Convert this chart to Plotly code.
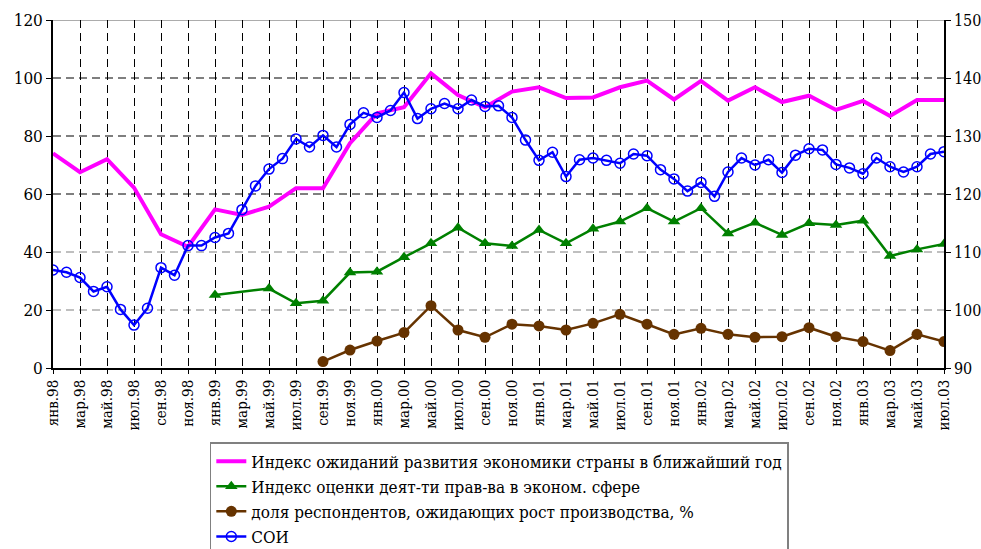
import plotly.graph_objects as go

month_abbr = ["янв", "фев", "мар", "апр", "май", "июн",
              "июл", "авг", "сен", "окт", "ноя", "дек"]
years = ["98", "99", "00", "01", "02", "03"]
months = [f"{m}.{y}" for y in years for m in month_abbr][:67]  # янв.98 .. июл.03

# СОИ (right axis), monthly
soi = [106.9, 106.5, 105.6, 103.2, 104.0, 100.1, 97.4, 100.3, 107.3, 106.0, 111.1, 111.1,
       112.5, 113.2, 117.3, 121.4, 124.3, 126.1, 129.5, 128.1, 130.1, 128.1, 132.0, 134.0,
       133.2, 134.4, 137.5, 133.0, 134.7, 135.6, 134.7, 136.2, 135.1, 135.2, 133.2, 129.3,
       125.8, 127.2, 123.0, 125.9, 126.2, 125.8, 125.3, 126.9, 126.6, 124.2, 122.6, 120.5,
       122.0, 119.6, 123.8, 126.2, 125.0, 125.9, 123.7, 126.7, 127.8, 127.6, 125.1, 124.5,
       123.5, 126.2, 124.7, 123.8, 124.7, 126.9, 127.3]

# bi-monthly series (янв, мар, май, июл, сен, ноя)
bimonth = months[::2]
expect_idx = [74.0, 67.5, 72.0, 62.2, 46.1, 41.8,
              54.7, 52.8, 55.6, 62.0, 62.0, 77.5,
              87.8, 89.9, 101.6, 94.1, 89.9, 95.3,
              96.8, 93.1, 93.3, 96.8, 99.1, 92.6,
              99.0, 92.2, 96.8, 91.7, 93.9, 89.0,
              92.1, 86.9, 92.4, 92.4]
gov_idx = [None, None, None, None, None, None,
           25.2, None, 27.4, 22.3, 23.2, 32.9,
           33.2, 38.2, 43.0, 48.4, 43.0, 42.1,
           47.6, 43.0, 48.0, 50.5, 55.1, 50.5,
           55.1, 46.4, 50.1, 45.9, 49.9, 49.3,
           50.8, 38.6, 40.9, 42.8]
prod_share = [None, None, None, None, None, None,
              None, None, None, None, 2.2, 6.2,
              9.3, 12.2, 21.5, 13.1, 10.6, 15.1,
              14.5, 13.1, 15.4, 18.5, 15.1, 11.6,
              13.7, 11.6, 10.6, 10.8, 13.9, 10.8,
              9.1, 6.0, 11.6, 9.1]

left_ticks = [0, 20, 40, 60, 80, 100, 120]
right_ticks = [90, 100, 110, 120, 130, 140, 150]

names = ["Индекс ожиданий развития экономики страны в ближайший год",
         "Индекс оценки деят-ти прав-ва в эконом. сфере",
         "доля респондентов, ожидающих рост производства, %",
         "СОИ"]

xi_month = list(range(len(months)))
xi_bi = xi_month[::2]

FONT = "DejaVu Serif Condensed"

fig = go.Figure()
fig.add_trace(go.Scatter(x=xi_bi, y=expect_idx, name=names[0], mode="lines",
                         line=dict(color="#FF00FF", width=4)))
fig.add_trace(go.Scatter(x=xi_bi, y=gov_idx, name=names[1], mode="lines+markers",
                         connectgaps=True,
                         line=dict(color="#008000", width=2.5),
                         marker=dict(symbol="triangle-up", size=11, color="#008000")))
fig.add_trace(go.Scatter(x=xi_bi, y=prod_share, name=names[2], mode="lines+markers",
                         line=dict(color="#663300", width=2.5),
                         marker=dict(symbol="circle", size=11, color="#663300")))
fig.add_trace(go.Scatter(x=xi_month, y=soi, name=names[3], mode="lines+markers",
                         yaxis="y2",
                         line=dict(color="#0000FF", width=2.5),
                         marker=dict(symbol="circle-open", size=10, color="#0000FF",
                                     line=dict(width=1.5, color="#0000FF"))))

shapes = []
for v in left_ticks[1:-1]:
    shapes.append(dict(type="line", xref="paper", yref="y", x0=0, x1=1, y0=v, y1=v,
                       layer="below",
                       line=dict(color="#808080" if v <= 40 else "#000000",
                                 width=1.2, dash="8px,5px")))
shapes.append(dict(type="line", xref="paper", yref="y", x0=0, x1=1,
                   y0=left_ticks[-1], y1=left_ticks[-1], layer="below",
                   line=dict(color="#909090", width=1.5)))

fig.update_layout(
    width=981, height=549,
    margin=dict(l=53, r=37, t=20, b=181, autoexpand=False),
    paper_bgcolor="white", plot_bgcolor="white",
    font=dict(family=FONT, color="black", size=17),
    shapes=shapes,
    showlegend=True,
    legend=dict(x=0.176, y=-0.213, xanchor="left", yanchor="top",
                bordercolor="#808080", borderwidth=1.5, bgcolor="white",
                font=dict(family=FONT, size=17, color="black"),
                tracegroupgap=0, itemwidth=30),
    xaxis=dict(range=[0, len(months) - 1], tickmode="array",
               tickvals=xi_bi, ticktext=bimonth, tickangle=-90,
               tickfont=dict(family=FONT, size=15),
               showgrid=True, gridcolor="black", gridwidth=1, griddash="8px,5px",
               showline=True, linecolor="black", linewidth=1.5,
               ticks="outside", ticklen=4, tickcolor="black", zeroline=False),
    yaxis=dict(range=[0, 120], tickvals=left_ticks, showgrid=False,
               showline=True, linecolor="black", linewidth=1.5,
               ticks="outside", ticklen=5, tickcolor="black", zeroline=False,
               tickfont=dict(family=FONT, size=17)),
    yaxis2=dict(range=[90, 150], tickvals=right_ticks, overlaying="y", side="right",
                showgrid=False, showline=True, linecolor="black", linewidth=1.5,
                ticks="outside", ticklen=5, tickcolor="black", zeroline=False,
                tickfont=dict(family=FONT, size=16)),
)

fig.write_html("out.html",
               config={"displayModeBar": False},
               post_script="document.body.style.margin='0';"
                           "document.body.style.overflow='hidden';")
